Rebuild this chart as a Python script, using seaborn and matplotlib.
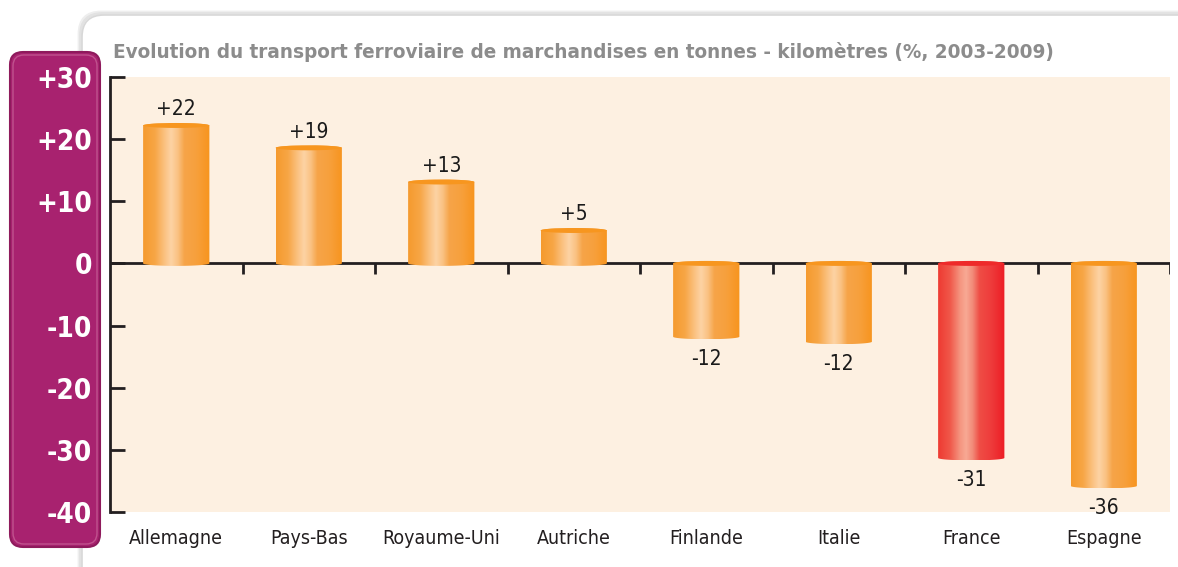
import numpy as np
import matplotlib
matplotlib.use("Agg")
import matplotlib.pyplot as plt
import matplotlib.path as mpath
import matplotlib.transforms as mtransforms
from matplotlib.patches import PathPatch, FancyBboxPatch, Ellipse
from matplotlib.colors import LinearSegmentedColormap
import seaborn as sns

# data
countries = ["Allemagne", "Pays-Bas", "Royaume-Uni", "Autriche",
             "Finlande", "Italie", "France", "Espagne"]
values = [22.2, 18.6, 13.1, 5.3, -11.8, -12.6, -31.3, -35.8]
value_labels = ["+22", "+19", "+13", "+5", "-12", "-12", "-31", "-36"]
highlight = "France"

y_ticks = [30, 20, 10, 0, -10, -20, -30, -40]
y_tick_labels = ["+30", "+20", "+10", "0", "-10", "-20", "-30", "-40"]

title = "Evolution du transport ferroviaire de marchandises en tonnes - kilomètres (%, 2003-2009)"

ORANGE = "#F7941D"
RED = "#ED1C24"
PURPLE = "#A8226F"
PEACH = "#FDF0E1"

sns.set_theme(style="white")
plt.rcParams["font.family"] = ["DejaVu Sans"]
plt.rcParams["font.stretch"] = "condensed"

fig = plt.figure(figsize=(11.78, 5.67), dpi=100)
fig.patch.set_facecolor("white")
W, H = 1178, 567
ax = fig.add_axes([110 / W, 1 - 512 / H, (1170 - 110) / W, (512 - 77) / H])
ax.set_facecolor(PEACH)

# white rounded frame with soft shadow
px = mtransforms.IdentityTransform()
for off, col in [(3, "#EEEEEE"), (1.5, "#E2E2E2")]:
    fig.add_artist(FancyBboxPatch((82 - off, -30), 1140, 582 + off,
                                  boxstyle="round,pad=0,rounding_size=22",
                                  transform=px, facecolor="none",
                                  edgecolor=col, lw=2, zorder=-3))
fig.add_artist(FancyBboxPatch((82, -30), 1140, 582,
                              boxstyle="round,pad=0,rounding_size=22",
                              transform=px, facecolor="white",
                              edgecolor="#D8D8D8", lw=1.2, zorder=-2))
# purple box holding the y labels
fig.add_artist(FancyBboxPatch((10, 20), 90, 495,
                              boxstyle="round,pad=0,rounding_size=13",
                              transform=px, facecolor=PURPLE,
                              edgecolor="#8E1A5C", lw=1.5, zorder=-1))
fig.add_artist(FancyBboxPatch((13, 23), 84, 489,
                              boxstyle="round,pad=0,rounding_size=11",
                              transform=px, facecolor="none",
                              edgecolor="#C0528E", lw=1, zorder=-1))

palette = {c: (RED if c == highlight else ORANGE) for c in countries}
sns.barplot(x=countries, y=values, hue=countries, palette=palette,
            width=0.5, legend=False, ax=ax, zorder=2)

orange_cmap = LinearSegmentedColormap.from_list("o", [
    (0.0, "#F59A2E"), (0.18, "#F7A646"), (0.33, "#FBC384"),
    (0.42, "#FDD3A4"), (0.52, "#FAC283"), (0.62, "#F6A448"),
    (0.8, "#F7A03C"), (1.0, "#F7941D")])
red_cmap = LinearSegmentedColormap.from_list("r", [
    (0.0, "#EE3A32"), (0.18, "#F0584A"), (0.33, "#F59580"),
    (0.42, "#F8A994"), (0.52, "#F28A78"), (0.62, "#EF4D45"),
    (0.8, "#EE3B3B"), (1.0, "#ED1C24")])
grad = np.linspace(0, 1, 256).reshape(1, -1)

e = 0.4  # half height of the cylinder ellipses, data units
for patch, country, v in zip(ax.patches, countries, values):
    x0 = patch.get_x()
    w = patch.get_width()
    lo, hi = min(0, v), max(0, v)
    patch.set_facecolor("none")
    patch.set_edgecolor("none")
    t = np.linspace(np.pi, 0, 40)
    top = np.column_stack([x0 + w / 2 + w / 2 * np.cos(t), hi + e * np.sin(t)])
    t2 = np.linspace(0, -np.pi, 40)
    bot = np.column_stack([x0 + w / 2 + w / 2 * np.cos(t2), lo + e * np.sin(t2)])
    pts = np.vstack([[x0, lo], top, bot, [x0, lo]])
    shape = PathPatch(mpath.Path(pts), transform=ax.transData,
                      facecolor="none", edgecolor="none")
    ax.add_patch(shape)
    cmap = red_cmap if country == highlight else orange_cmap
    im = ax.imshow(grad, cmap=cmap, aspect="auto", interpolation="bilinear",
                   extent=[x0, x0 + w, lo - e, hi + e], zorder=3)
    im.set_clip_path(shape)
    cap_col = "#EE2A2A" if country == highlight else "#F7961F"
    ax.add_patch(Ellipse((x0 + w / 2, hi), w, 2 * e, facecolor=cap_col,
                         edgecolor="none", zorder=4))

ax.set_xlim(-0.5, len(countries) - 0.5)
ax.set_ylim(min(y_ticks), max(y_ticks))

# value labels
for i, (v, lab) in enumerate(zip(values, value_labels)):
    if v >= 0:
        ax.text(i, v + 1.0, lab, ha="center", va="bottom", fontsize=15,
                color="#1A1A1A", zorder=5)
    else:
        ax.text(i, v - 1.9, lab, ha="center", va="top", fontsize=15,
                color="#1A1A1A", zorder=5, clip_on=False)

# zero line with separators between categories
ax.axhline(0, color="#231F20", lw=2, zorder=1)
ax.vlines(np.arange(len(countries)) + 0.5, -1.75, 0, color="#231F20",
          lw=2, zorder=1)

sns.despine(ax=ax, top=True, right=True, bottom=True, left=False)
ax.spines["left"].set_color("#231F20")
ax.spines["left"].set_linewidth(2)
ax.set_yticks(y_ticks)
ax.set_yticklabels(y_tick_labels, fontsize=20, fontweight="bold", color="white")
ax.tick_params(axis="y", direction="in", length=11, width=2,
               color="#231F20", pad=13, left=True)
ax.tick_params(axis="x", length=0, pad=12, labelsize=14, labelcolor="#231F20")
ax.set_xlabel("")
ax.set_ylabel("")

ttl = fig.text(113 / W, 1 - 58 / H, title, fontsize=19, fontweight="bold",
               color="#8C8C8C", ha="left", va="baseline")
# shrink the title so it ends where the reference one ends
fig.canvas.draw()
tw = ttl.get_window_extent().width
if tw > 940:
    ttl.set_fontsize(19 * 940 / tw)

fig.savefig("out.png", dpi=100, facecolor="white")
